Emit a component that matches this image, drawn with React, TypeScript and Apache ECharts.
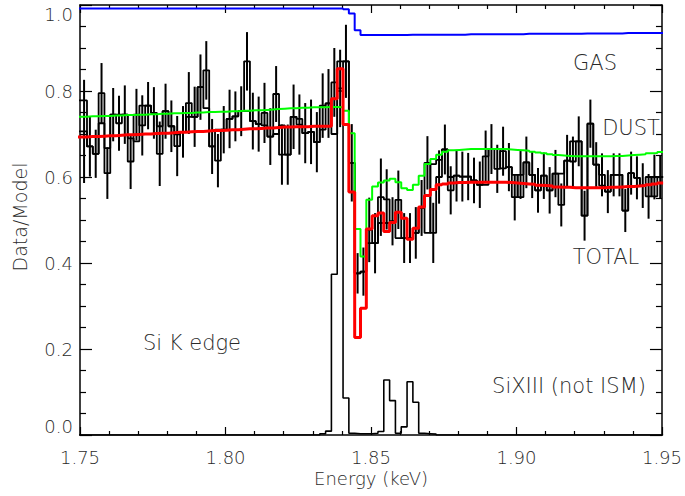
import React, { useEffect, useRef } from "react";
import * as echarts from "echarts";

// ---------- axis ranges & binning ----------
const E_MIN = 1.75;
const E_MAX = 1.95;
const BIN_START = 1.7504;
const BIN_WIDTH = 0.002;
const xTickInterval = 0.05;
const yTickInterval = 0.2;

// ---------- observed data (Data/Model), one value per 2 eV bin ----------
const dataValues = [
  0.706, 0.671, 0.654, 0.795, 0.609, 0.745, 0.725, 0.745, 0.636, 0.745,
  0.720, 0.766, 0.749, 0.654, 0.753, 0.718, 0.672, 0.705, 0.772, 0.740,
  0.809, 0.848, 0.671, 0.638, 0.710, 0.735, 0.741, 0.753, 0.869, 0.730,
  0.723, 0.749, 0.694, 0.793, 0.652, 0.652, 0.740, 0.722, 0.702, 0.705,
  0.681, 0.766, 0.771, 0.820, 0.806, 0.869, 0.633, 0.376, 0.380, 0.477,
  0.446, 0.553, 0.548, 0.497, 0.547, 0.458, 0.458, 0.470, 0.528, 0.633,
  0.470, 0.600, 0.664, 0.569, 0.603, 0.601, 0.601, 0.592, 0.582, 0.648,
  0.665, 0.619, 0.660, 0.623, 0.553, 0.605, 0.634, 0.605, 0.569, 0.603,
  0.569, 0.608, 0.535, 0.638, 0.636, 0.683, 0.510, 0.724, 0.629, 0.605,
  0.566, 0.605, 0.605, 0.522, 0.609, 0.598, 0.580, 0.555, 0.600, 0.600,
];

// half-length of the error bars
const dataErrors = [
  0.120, 0.070, 0.056, 0.070, 0.060, 0.062, 0.064, 0.068, 0.064, 0.060,
  0.070, 0.055, 0.060, 0.075, 0.064, 0.060, 0.070, 0.060, 0.072, 0.070,
  0.076, 0.068, 0.064, 0.062, 0.055, 0.068, 0.058, 0.058, 0.068, 0.066,
  0.064, 0.070, 0.066, 0.065, 0.070, 0.070, 0.075, 0.070, 0.070, 0.075,
  0.070, 0.075, 0.080, 0.080, 0.090, 0.085, 0.090, 0.047, 0.056, 0.075,
  0.070, 0.090, 0.070, 0.056, 0.068, 0.058, 0.058, 0.060, 0.065, 0.062,
  0.070, 0.062, 0.058, 0.056, 0.060, 0.058, 0.055, 0.053, 0.054, 0.060,
  0.058, 0.056, 0.057, 0.056, 0.054, 0.056, 0.060, 0.054, 0.052, 0.054,
  0.054, 0.055, 0.050, 0.060, 0.058, 0.058, 0.058, 0.056, 0.052, 0.050,
  0.050, 0.050, 0.050, 0.050, 0.050, 0.050, 0.052, 0.052, 0.052, 0.050,
];

// second histogram level (forms the boxes) where it differs: [bin, value]
const dataAltBins = [
  [0, 0.778], [3, 0.725], [4, 0.667], [6, 0.745], [8, 0.690], [9, 0.683],
  [10, 0.766], [13, 0.718], [16, 0.699], [18, 0.740], [21, 0.760], [23, 0.710],
  [28, 0.753], [31, 0.720], [33, 0.700], [34, 0.720], [37, 0.735], [41, 0.710],
  [43, 0.700], [44, 0.869], [49, 0.446], [51, 0.493], [52, 0.493], [54, 0.458],
  [59, 0.470], [60, 0.630], [61, 0.640], [63, 0.600], [69, 0.582], [71, 0.665],
  [72, 0.620], [74, 0.605], [75, 0.553], [82, 0.608], [84, 0.683], [89, 0.580],
  [97, 0.600], [98, 0.555],
];

// ---------- models ----------
const gasModel = [
  0.992, 0.992, 0.992, 0.992, 0.992, 0.992, 0.992, 0.992, 0.992, 0.992,
  0.992, 0.992, 0.992, 0.992, 0.992, 0.992, 0.992, 0.992, 0.992, 0.992,
  0.992, 0.992, 0.992, 0.992, 0.992, 0.992, 0.992, 0.992, 0.992, 0.992,
  0.992, 0.992, 0.992, 0.992, 0.992, 0.992, 0.992, 0.992, 0.992, 0.992,
  0.992, 0.992, 0.992, 0.992, 0.992, 0.990, 0.980, 0.941, 0.930, 0.930,
  0.930, 0.930, 0.930, 0.930, 0.930, 0.930, 0.931, 0.931, 0.931, 0.931,
  0.931, 0.931, 0.931, 0.931, 0.931, 0.931, 0.932, 0.932, 0.932, 0.932,
  0.932, 0.932, 0.932, 0.932, 0.932, 0.932, 0.933, 0.933, 0.933, 0.933,
  0.933, 0.933, 0.933, 0.933, 0.933, 0.933, 0.934, 0.934, 0.934, 0.934,
  0.934, 0.934, 0.934, 0.935, 0.935, 0.935, 0.935, 0.935, 0.935, 0.935,
];

const dustModel = [
  0.740, 0.741, 0.741, 0.742, 0.742, 0.743, 0.743, 0.744, 0.744, 0.745,
  0.745, 0.746, 0.746, 0.747, 0.747, 0.748, 0.748, 0.749, 0.749, 0.750,
  0.750, 0.751, 0.751, 0.752, 0.752, 0.753, 0.753, 0.754, 0.754, 0.755,
  0.755, 0.756, 0.757, 0.758, 0.759, 0.760, 0.760, 0.761, 0.761, 0.762,
  0.762, 0.762, 0.763, 0.763, 0.762, 0.754, 0.702, 0.479, 0.415, 0.547,
  0.578, 0.587, 0.592, 0.596, 0.588, 0.574, 0.570, 0.582, 0.603, 0.630,
  0.642, 0.652, 0.659, 0.662, 0.663, 0.664, 0.665, 0.665, 0.665, 0.665,
  0.665, 0.665, 0.665, 0.664, 0.663, 0.662, 0.661, 0.659, 0.657, 0.655,
  0.653, 0.651, 0.650, 0.649, 0.648, 0.648, 0.648, 0.648, 0.648, 0.648,
  0.648, 0.649, 0.649, 0.650, 0.651, 0.652, 0.653, 0.655, 0.656, 0.658,
];

const totalModel = [
  0.693, 0.694, 0.694, 0.695, 0.696, 0.696, 0.697, 0.698, 0.698, 0.699,
  0.700, 0.700, 0.701, 0.702, 0.702, 0.703, 0.704, 0.704, 0.705, 0.706,
  0.706, 0.707, 0.708, 0.708, 0.709, 0.710, 0.710, 0.711, 0.712, 0.712,
  0.713, 0.714, 0.714, 0.715, 0.716, 0.716, 0.717, 0.717, 0.717, 0.718,
  0.718, 0.718, 0.718, 0.782, 0.852, 0.722, 0.565, 0.227, 0.295, 0.479,
  0.510, 0.516, 0.473, 0.494, 0.518, 0.504, 0.455, 0.481, 0.530, 0.557,
  0.571, 0.582, 0.584, 0.586, 0.587, 0.587, 0.588, 0.588, 0.588, 0.588,
  0.588, 0.588, 0.588, 0.587, 0.586, 0.585, 0.584, 0.583, 0.581, 0.580,
  0.579, 0.577, 0.576, 0.576, 0.575, 0.575, 0.575, 0.575, 0.575, 0.575,
  0.576, 0.576, 0.577, 0.578, 0.578, 0.579, 0.580, 0.582, 0.584, 0.586,
];

// black line: Si K edge feature and SiXIII (not ISM) lines
const lineModel = [
  0, 0, 0, 0, 0, 0, 0, 0, 0, 0,
  0, 0, 0, 0, 0, 0, 0, 0, 0, 0,
  0, 0, 0, 0, 0, 0, 0, 0, 0, 0,
  0, 0, 0, 0, 0, 0, 0, 0, 0, 0,
  0, 0.003, 0.009, 0.374, 0.800, 0.086, 0.004, 0.003, 0.003, 0.003,
  0.004, 0.008, 0.128, 0.080, 0.004, 0.019, 0.124, 0.076, 0.004, 0.003,
  0.002, 0, 0, 0, 0, 0, 0, 0, 0, 0,
  0, 0, 0, 0, 0, 0, 0, 0, 0, 0,
  0, 0, 0, 0, 0, 0, 0, 0, 0, 0,
  0, 0, 0, 0, 0, 0, 0, 0, 0, 0,
];

const annotations = [
  { text: "GAS", x: 595, y: 63 },
  { text: "DUST", x: 631, y: 128 },
  { text: "TOTAL", x: 606, y: 257 },
  { text: "Si K edge", x: 192, y: 343 },
  { text: "SiXIII (not ISM)", x: 569, y: 386 },
];

const FONT = "'DejaVu Sans', sans-serif";
const TEXT_COLOR = "#2a2a2a";
const TEXT_WEIGHT = 200;

function binLeft(k: number) {
  return BIN_START + k * BIN_WIDTH;
}

function stepPoints(vals: number[]) {
  const pts: number[][] = vals.map((v, k) => [k === 0 ? E_MIN - 0.001 : binLeft(k), v]);
  pts.push([binLeft(vals.length), vals[vals.length - 1]]);
  return pts;
}

function stepSeries(name: string, vals: number[], color: string, width: number, z: number) {
  return {
    name,
    type: "line",
    step: "end",
    data: stepPoints(vals),
    symbol: "none",
    clip: true,
    lineStyle: { color, width },
    z,
    silent: true,
  };
}

export default function App() {
  const ref = useRef<HTMLDivElement>(null);

  useEffect(() => {
    if (!ref.current) return;
    const chart = echarts.init(ref.current, null, { renderer: "svg" });

    const altValues = dataValues.slice();
    dataAltBins.forEach(([k, v]) => {
      altValues[k] = v;
    });

    const errData = dataValues.map((v, k) => [
      binLeft(k) + BIN_WIDTH / 2,
      v - dataErrors[k],
      v + dataErrors[k],
    ]);

    const axisLineStyle = { color: "#000", width: 1.5 };

    const xAxisBase = {
      type: "value",
      min: E_MIN,
      max: E_MAX,
      interval: xTickInterval,
      splitLine: { show: false },
      axisLine: { show: true, onZero: false, lineStyle: axisLineStyle },
      axisTick: { show: true, inside: true, length: 8, lineStyle: { color: "#000", width: 1.2 } },
      minorTick: { show: true, splitNumber: 5, length: 4, lineStyle: { color: "#000", width: 1.2 } },
      minorSplitLine: { show: false },
    };

    const yAxisBase = {
      type: "value",
      min: 0,
      max: 1,
      interval: yTickInterval,
      splitLine: { show: false },
      axisLine: { show: true, onZero: false, lineStyle: axisLineStyle },
      axisTick: { show: true, inside: true, length: 12, lineStyle: { color: "#000", width: 1.2 } },
      minorTick: { show: true, splitNumber: 4, length: 6, lineStyle: { color: "#000", width: 1.2 } },
      minorSplitLine: { show: false },
    };

    const textStyle = (size: number) => ({
      fontFamily: FONT,
      fontSize: size,
      fontWeight: TEXT_WEIGHT,
      fill: TEXT_COLOR,
      align: "center",
      verticalAlign: "middle",
    });

    chart.setOption({
      animation: false,
      backgroundColor: "#fff",
      grid: { left: 80, top: 5, width: 582, height: 430, containLabel: false },
      xAxis: [
        {
          ...xAxisBase,
          position: "bottom",
          axisLabel: {
            show: true,
            formatter: (v: number) => v.toFixed(2),
            fontFamily: FONT,
            fontSize: 18,
            fontWeight: TEXT_WEIGHT,
            color: TEXT_COLOR,
            margin: 13,
            showMinLabel: true,
            showMaxLabel: true,
          },
        },
        { ...xAxisBase, position: "top", axisLabel: { show: false } },
      ],
      yAxis: [
        {
          ...yAxisBase,
          position: "left",
          axisLabel: {
            show: true,
            formatter: (v: number) => v.toFixed(1),
            fontFamily: FONT,
            fontSize: 18,
            fontWeight: TEXT_WEIGHT,
            color: TEXT_COLOR,
            margin: 7,
            showMinLabel: true,
            showMaxLabel: true,
            verticalAlignMinLabel: "bottom",
            verticalAlignMaxLabel: "top",
          },
        },
        { ...yAxisBase, position: "right", axisLabel: { show: false } },
      ],
      series: [
        stepSeries("lines", lineModel, "#000", 1.6, 2),
        stepSeries("data", dataValues, "#000", 1.8, 3),
        stepSeries("data2", altValues, "#000", 1.8, 3),
        {
          name: "errors",
          type: "custom",
          data: errData,
          encode: { x: 0, y: [1, 2] },
          clip: true,
          z: 3,
          silent: true,
          renderItem: (_params: any, api: any) => {
            const x = api.value(0);
            const lo = api.coord([x, api.value(1)]);
            const hi = api.coord([x, api.value(2)]);
            return {
              type: "line",
              shape: { x1: lo[0], y1: lo[1], x2: hi[0], y2: hi[1] },
              style: { stroke: "#000", lineWidth: 2 },
            };
          },
        },
        stepSeries("gas", gasModel, "#0000ff", 2, 4),
        stepSeries("dust", dustModel, "#00ff00", 2, 4),
        stepSeries("total", totalModel, "#ff0000", 3, 5),
      ],
      graphic: [
        ...annotations.map((a) => ({
          type: "text",
          x: a.x,
          y: a.y,
          z: 10,
          style: { text: a.text, ...textStyle(21) },
        })),
        {
          type: "text",
          x: 371,
          y: 478,
          style: { text: "Energy (keV)", ...textStyle(18) },
        },
        {
          type: "text",
          x: 20,
          y: 217,
          rotation: Math.PI / 2,
          style: { text: "Data/Model", ...textStyle(19) },
        },
      ],
    });

    return () => {
      chart.dispose();
    };
  }, []);

  return (
    <div
      ref={ref}
      style={{ position: "fixed", left: 0, top: 0, width: 685, height: 496, background: "#fff" }}
    />
  );
}
